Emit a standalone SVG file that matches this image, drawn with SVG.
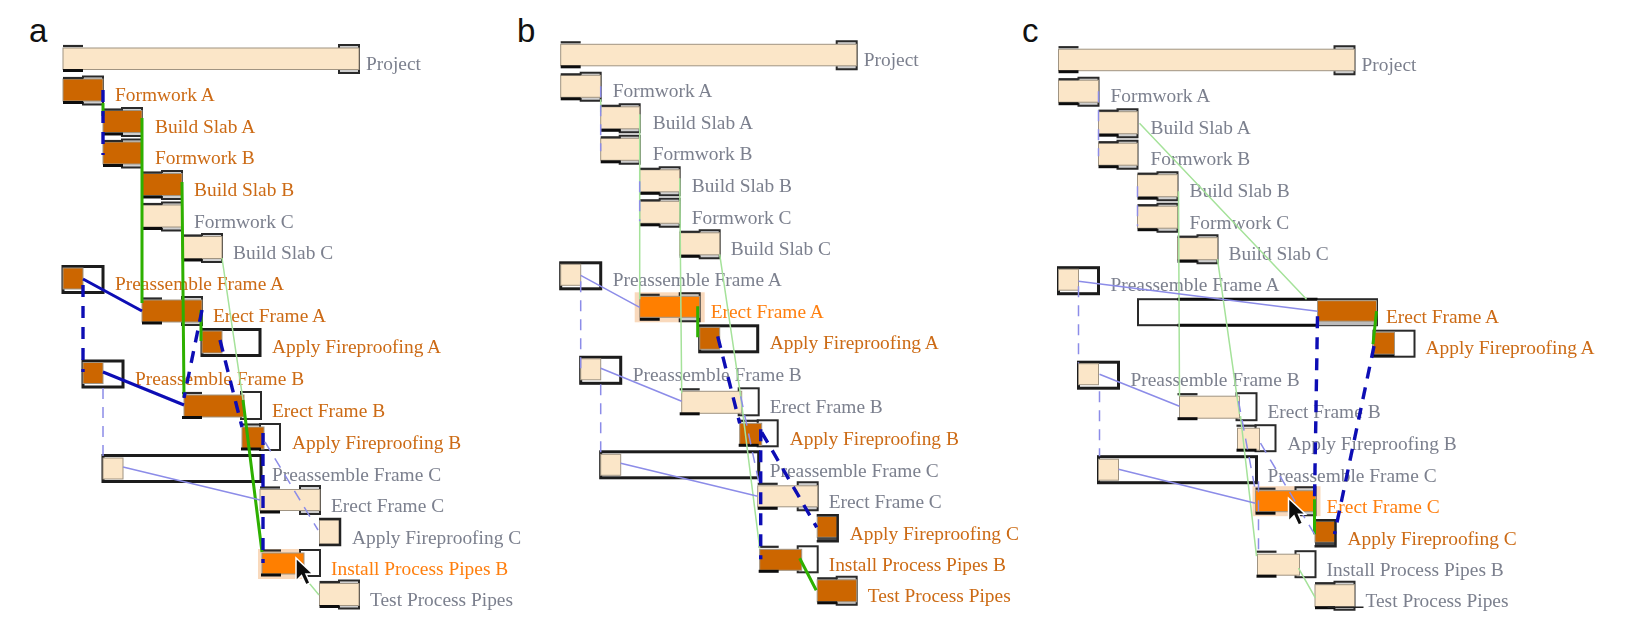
<svg xmlns="http://www.w3.org/2000/svg" width="1634" height="627" viewBox="0 0 1634 627">
<style>
.n{fill:#FBE6C8}.d{fill:#CC6600}.h{fill:#FF7F00}.k{fill:#F9D9BC}
.n,.d,.h{stroke:#a09482;stroke-width:1}
.w{fill:#fff;stroke:#2a2a2a;stroke-width:2}.W{fill:#fff;stroke:#1c1c1c;stroke-width:3}
text{font-family:"Liberation Serif","Times New Roman",serif;font-size:19.4px}
.g{fill:#7C808E}.r{fill:#CC6A14}.b{fill:#FF7F10}
.p{font-family:"Liberation Sans",Arial,sans-serif;font-size:33px;fill:#111}
path.c{fill:none}
.gt{stroke:#2DB000;stroke-width:3}.gl{stroke:#A5E29A;stroke-width:1.5}
.bt{stroke:#0A0AB4;stroke-width:3}.bd{stroke:#0A0AB4;stroke-width:3.4;stroke-dasharray:12 9}
.bl{stroke:#8C8CE8;stroke-width:1.5}.ld{stroke:#8C8CE8;stroke-width:1.5;stroke-dasharray:11 8}
</style>
<defs>
<filter id="s" x="-2%" y="-2%" width="104%" height="104%"><feGaussianBlur stdDeviation="0.45"/></filter>
<g id="cl"><path d="M0-12.5H20" fill="none" stroke="#2a2a2a" stroke-width="2.200"/><path d="M0 12H20" fill="none" stroke="#111" stroke-width="3"/></g>
<g id="cr"><rect x="-20" y="-13" width="20" height="27" fill="#cfcfcf"/><path d="M-20-11V-14H0V14H-20V11" fill="none" stroke="#2a2a2a" stroke-width="2"/></g>
<path id="cur" d="M0 0V23L5.500 17.500L10 27L14 25L10 16H17Z" fill="#111" stroke="#fff" stroke-width="1.500"/>
</defs>
<text class="p" x="29" y="42">a</text>
<text class="p" x="517" y="42">b</text>
<text class="p" x="1022" y="42">c</text>

<g id="panel-a" filter="url(#s)">
<g id="a-project"><use href="#cr" x="359" y="59"/><rect class="n" x="63" y="48" width="296" height="21.500"/><use href="#cl" x="63" y="58.500"/><text class="g" x="366" y="70">Project</text></g>
<g id="a-formwork-a"><use href="#cr" x="103" y="90.500"/><rect class="d" x="63" y="79" width="40" height="22"/><use href="#cl" x="63" y="90.500"/><text class="r" x="115" y="101">Formwork A</text></g>
<g id="a-build-slab-a"><use href="#cr" x="142" y="122"/><rect class="d" x="103" y="110.500" width="39" height="22"/><use href="#cl" x="103" y="122"/><text class="r" x="155" y="133">Build Slab A</text></g>
<g id="a-formwork-b"><use href="#cr" x="142" y="153.500"/><rect class="d" x="103" y="142" width="39" height="22"/><use href="#cl" x="103" y="153.500"/><text class="r" x="155" y="164">Formwork B</text></g>
<g id="a-build-slab-b"><use href="#cr" x="182" y="185"/><rect class="d" x="142" y="173.500" width="40" height="22"/><use href="#cl" x="142" y="185"/><text class="r" x="194" y="196">Build Slab B</text></g>
<g id="a-formwork-c"><use href="#cr" x="182" y="216.500"/><rect class="n" x="142" y="205" width="40" height="22"/><use href="#cl" x="142" y="216.500"/><text class="g" x="194" y="228">Formwork C</text></g>
<g id="a-build-slab-c"><use href="#cr" x="222" y="248"/><rect class="n" x="182" y="236.500" width="40" height="22"/><use href="#cl" x="182" y="248"/><text class="g" x="233" y="259">Build Slab C</text></g>
<g id="a-preassemble-a"><rect class="W" x="63" y="266.500" width="40" height="26"/><rect class="d" x="63" y="268" width="20" height="21"/><text class="r" x="115" y="290">Preassemble Frame A</text></g>
<g id="a-erect-a"><use href="#cr" x="202" y="311"/><rect class="d" x="142" y="300" width="60" height="22"/><use href="#cl" x="142" y="311"/><text class="r" x="213" y="322">Erect Frame A</text></g>
<g id="a-fireproof-a"><rect class="W" x="202" y="329.500" width="58" height="26"/><rect class="d" x="202" y="331" width="20" height="22"/><text class="r" x="272" y="353">Apply Fireproofing A</text></g>
<g id="a-preassemble-b"><rect class="W" x="83" y="361" width="40" height="26"/><rect class="d" x="83" y="362.500" width="20" height="21"/><text class="r" x="135" y="385">Preassemble Frame B</text></g>
<g id="a-erect-b"><rect class="w" x="241" y="392" width="20" height="27"/><rect class="d" x="184" y="395" width="60" height="22"/><use href="#cl" x="182" y="405.500"/><text class="r" x="272" y="417">Erect Frame B</text></g>
<g id="a-fireproof-b"><rect class="w" x="260" y="424" width="20" height="26"/><rect class="d" x="242" y="427" width="22" height="22"/><use href="#cl" x="241" y="437"/><text class="r" x="292" y="449">Apply Fireproofing B</text></g>
<g id="a-preassemble-c"><rect class="W" x="103" y="455.500" width="158" height="26"/><rect class="n" x="103" y="458" width="20" height="21"/><text class="g" x="272" y="481">Preassemble Frame C</text></g>
<g id="a-erect-c"><use href="#cr" x="320" y="500"/><rect class="n" x="260" y="489.500" width="60" height="21"/><use href="#cl" x="260" y="500"/><text class="g" x="331" y="512">Erect Frame C</text></g>
<g id="a-fireproof-c"><rect class="n" x="319.500" y="520" width="20" height="24"/><path class="c" d="M319 519H340V545H319" stroke="#222" stroke-width="2.500"/><text class="g" x="352" y="544">Apply Fireproofing C</text></g>
<g id="a-install-b"><rect class="k" x="258" y="549" width="47" height="30"/><rect class="w" x="300" y="550" width="20" height="26"/><rect class="h" x="262" y="553" width="42" height="21"/><use href="#cl" x="261" y="563"/><text class="b" x="331" y="575">Install Process Pipes B</text></g>
<g id="a-test"><use href="#cr" x="359" y="594.500"/><rect class="n" x="319.500" y="583.500" width="39.500" height="22"/><use href="#cl" x="319.500" y="594.500"/><text class="g" x="370" y="606">Test Process Pipes</text></g>
<g id="a-connectors">
<path class="c gl" d="M222 258L243 400M305 578L319 595"/>
<path class="c gt" d="M103 103V116M142 118V303M182 182L184 397M201 310V341M243 400L262 552"/>
<path class="c bt" d="M83 279L142 311M103 372L184 405"/>
<path class="c bd" d="M103 90V155M83 285V372M202 310L184 398M220 340L242 427M263 433V563"/>
<path class="c bl" d="M123 467L260 500"/>
<path class="c ld" d="M103 388V457M265 442L318 530"/>
</g>
<use href="#cur" x="296" y="558"/>
</g>

<g id="panel-b" filter="url(#s)" transform="translate(497.700 -3.700)">
<g id="b-project"><use href="#cr" x="359" y="59"/><rect class="n" x="63" y="48" width="296" height="21.500"/><use href="#cl" x="63" y="58.500"/><text class="g" x="366" y="70">Project</text></g>
<g id="b-formwork-a"><use href="#cr" x="103" y="90.500"/><rect class="n" x="63" y="79" width="40" height="22"/><use href="#cl" x="63" y="90.500"/><text class="g" x="115" y="101">Formwork A</text></g>
<g id="b-build-slab-a"><use href="#cr" x="142" y="122"/><rect class="n" x="103" y="110.500" width="39" height="22"/><use href="#cl" x="103" y="122"/><text class="g" x="155" y="133">Build Slab A</text></g>
<g id="b-formwork-b"><use href="#cr" x="142" y="153.500"/><rect class="n" x="103" y="142" width="39" height="22"/><use href="#cl" x="103" y="153.500"/><text class="g" x="155" y="164">Formwork B</text></g>
<g id="b-build-slab-b"><use href="#cr" x="182" y="185"/><rect class="n" x="142" y="173.500" width="40" height="22"/><use href="#cl" x="142" y="185"/><text class="g" x="194" y="196">Build Slab B</text></g>
<g id="b-formwork-c"><use href="#cr" x="182" y="216.500"/><rect class="n" x="142" y="205" width="40" height="22"/><use href="#cl" x="142" y="216.500"/><text class="g" x="194" y="228">Formwork C</text></g>
<g id="b-build-slab-c"><use href="#cr" x="222" y="248"/><rect class="n" x="182" y="236.500" width="40" height="22"/><use href="#cl" x="182" y="248"/><text class="g" x="233" y="259">Build Slab C</text></g>
<g id="b-preassemble-a"><rect class="W" x="63" y="266.500" width="40" height="26"/><rect class="n" x="63" y="268" width="20" height="21"/><text class="g" x="115" y="290">Preassemble Frame A</text></g>
<g id="b-erect-a"><rect class="k" x="137" y="296" width="70" height="30"/><use href="#cr" x="202" y="311"/><rect class="h" x="142" y="300" width="60" height="21"/><use href="#cl" x="142" y="311"/><text class="b" x="213" y="322">Erect Frame A</text></g>
<g id="b-fireproof-a"><rect class="W" x="202" y="329.500" width="58" height="26"/><rect class="d" x="202" y="331" width="20" height="22"/><text class="r" x="272" y="353">Apply Fireproofing A</text></g>
<g id="b-preassemble-b"><rect class="W" x="83" y="361" width="40" height="26"/><rect class="n" x="83" y="362.500" width="20" height="21"/><text class="g" x="135" y="385">Preassemble Frame B</text></g>
<g id="b-erect-b"><rect class="w" x="241" y="392" width="20" height="27"/><rect class="n" x="184" y="395" width="60" height="22"/><use href="#cl" x="182" y="405.500"/><text class="g" x="272" y="417">Erect Frame B</text></g>
<g id="b-fireproof-b"><rect class="w" x="260" y="424" width="20" height="26"/><rect class="d" x="242" y="427" width="22" height="22"/><use href="#cl" x="241" y="437"/><text class="r" x="292" y="449">Apply Fireproofing B</text></g>
<g id="b-preassemble-c"><rect class="W" x="103" y="455.500" width="158" height="26"/><rect class="n" x="103" y="458" width="20" height="21"/><text class="g" x="272" y="481">Preassemble Frame C</text></g>
<g id="b-erect-c"><use href="#cr" x="320" y="500"/><rect class="n" x="260" y="489.500" width="60" height="21"/><use href="#cl" x="260" y="500"/><text class="g" x="331" y="512">Erect Frame C</text></g>
<g id="b-fireproof-c"><rect class="d" x="319.500" y="520" width="20" height="21"/><rect x="319.500" y="541" width="20" height="4" fill="#444"/><path class="c" d="M319 519H340V545H319" stroke="#222" stroke-width="2.500"/><text class="r" x="352" y="544">Apply Fireproofing C</text></g>
<g id="b-install-b"><rect class="w" x="300" y="550" width="20" height="26"/><rect class="d" x="262" y="553" width="42" height="21"/><use href="#cl" x="261" y="563"/><text class="r" x="331" y="575">Install Process Pipes B</text></g>
<g id="b-test"><use href="#cr" x="359" y="594.500"/><rect class="d" x="319.500" y="583.500" width="39.500" height="22"/><use href="#cl" x="319.500" y="594.500"/><text class="r" x="370" y="606">Test Process Pipes</text></g>
<g id="b-connectors">
<path class="c gl" d="M103 103V116M142 118V303M182 182L184 397M243 400L262 552M222 258L243 400"/>
<path class="c gt" d="M200 310V341M302 562L318.500 594"/>
<path class="c bl" d="M83 279L142 311M103 372L184 405M123 467L260 500"/>
<path class="c ld" d="M103 90V155M142 185V225M83 285V372M103 388V457M243 400L262 490"/>
<path class="c bd" d="M220 340L242 427M264 436L319 531M263 433V563"/>
</g>
</g>

<g id="panel-c" filter="url(#s)" transform="translate(995.500 1.200)">
<g id="c-project"><use href="#cr" x="359" y="59"/><rect class="n" x="63" y="48" width="296" height="21.500"/><use href="#cl" x="63" y="58.500"/><text class="g" x="366" y="70">Project</text></g>
<g id="c-formwork-a"><use href="#cr" x="103" y="90.500"/><rect class="n" x="63" y="79" width="40" height="22"/><use href="#cl" x="63" y="90.500"/><text class="g" x="115" y="101">Formwork A</text></g>
<g id="c-build-slab-a"><use href="#cr" x="142" y="122"/><rect class="n" x="103" y="110.500" width="39" height="22"/><use href="#cl" x="103" y="122"/><text class="g" x="155" y="133">Build Slab A</text></g>
<g id="c-formwork-b"><use href="#cr" x="142" y="153.500"/><rect class="n" x="103" y="142" width="39" height="22"/><use href="#cl" x="103" y="153.500"/><text class="g" x="155" y="164">Formwork B</text></g>
<g id="c-build-slab-b"><use href="#cr" x="182" y="185"/><rect class="n" x="142" y="173.500" width="40" height="22"/><use href="#cl" x="142" y="185"/><text class="g" x="194" y="196">Build Slab B</text></g>
<g id="c-formwork-c"><use href="#cr" x="182" y="216.500"/><rect class="n" x="142" y="205" width="40" height="22"/><use href="#cl" x="142" y="216.500"/><text class="g" x="194" y="228">Formwork C</text></g>
<g id="c-build-slab-c"><use href="#cr" x="222" y="248"/><rect class="n" x="182" y="236.500" width="40" height="22"/><use href="#cl" x="182" y="248"/><text class="g" x="233" y="259">Build Slab C</text></g>
<g id="c-preassemble-a"><rect class="W" x="63" y="266.500" width="40" height="26"/><rect class="n" x="63" y="268" width="20" height="21"/><text class="g" x="115" y="290">Preassemble Frame A</text></g>
<g id="c-erect-a"><rect class="w" x="142.500" y="298" width="239" height="26"/><path class="c" d="M182 298H322M182 324H322" stroke="#111" stroke-width="3"/><rect x="322" y="320" width="59" height="4" fill="#bbb"/><rect class="d" x="322" y="299.500" width="59" height="20.500"/><text class="r" x="390.500" y="322">Erect Frame A</text></g>
<g id="c-fireproof-a"><rect class="w" x="378" y="329.500" width="41" height="26"/><rect class="d" x="378" y="331" width="21" height="22"/><path class="c" d="M378 354.500H399" stroke="#111" stroke-width="2.500"/><text class="r" x="430" y="353">Apply Fireproofing A</text></g>
<g id="c-preassemble-b"><rect class="W" x="83" y="361" width="40" height="26"/><rect class="n" x="83" y="362.500" width="20" height="21"/><text class="g" x="135" y="385">Preassemble Frame B</text></g>
<g id="c-erect-b"><rect class="w" x="241" y="392" width="20" height="27"/><rect class="n" x="184" y="395" width="60" height="22"/><use href="#cl" x="182" y="405.500"/><text class="g" x="272" y="417">Erect Frame B</text></g>
<g id="c-fireproof-b"><rect class="w" x="260" y="424" width="20" height="26"/><rect class="n" x="242" y="427" width="22" height="22"/><use href="#cl" x="241" y="437"/><text class="g" x="292" y="449">Apply Fireproofing B</text></g>
<g id="c-preassemble-c"><rect class="W" x="103" y="455.500" width="158" height="26"/><rect class="n" x="103" y="458" width="20" height="21"/><text class="g" x="272" y="481">Preassemble Frame C</text></g>
<g id="c-erect-c"><rect class="k" x="257" y="485" width="68" height="30"/><use href="#cr" x="320" y="500"/><rect class="h" x="260" y="489.500" width="60" height="21"/><use href="#cl" x="260" y="500"/><text class="b" x="331" y="512">Erect Frame C</text></g>
<g id="c-fireproof-c"><rect class="d" x="319.500" y="520" width="20" height="21"/><rect x="319.500" y="541" width="20" height="4" fill="#444"/><path class="c" d="M319 519H340V545H319" stroke="#222" stroke-width="2.500"/><text class="r" x="352" y="544">Apply Fireproofing C</text></g>
<g id="c-install-b"><rect class="w" x="300" y="550" width="20" height="26"/><rect class="n" x="262" y="553" width="42" height="21"/><use href="#cl" x="261" y="563"/><text class="g" x="331" y="575">Install Process Pipes B</text></g>
<g id="c-test"><use href="#cr" x="359" y="594.500"/><rect class="n" x="319.500" y="583.500" width="39.500" height="22"/><use href="#cl" x="319.500" y="594.500"/><path class="c" d="M332 606H368" stroke="#222" stroke-width="1.500"/><text class="g" x="370" y="606">Test Process Pipes</text></g>
<g id="c-connectors">
<path class="c gl" d="M144 122L311 298M183 190L184 395M222 258L244 413M245 415L261 555M303 567L320 597"/>
<path class="c gt" d="M381 310L377.500 343M319 498V533"/>
<path class="c bl" d="M83 280L322 310M104 373L184 405M123 468L260 502"/>
<path class="c ld" d="M103 90V155M142 185V225M83 285V362M104 390V455M265 442L319 533M263 480V553M243 400L260 490"/>
<path class="c bd" d="M322 315L319 500M378.500 345L339 533"/>
</g>
<use href="#cur" x="293" y="497"/>
</g>
</svg>
